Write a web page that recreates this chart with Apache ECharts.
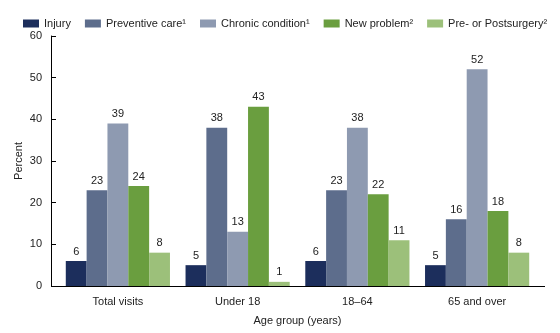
<!DOCTYPE html>
<html><head><meta charset="utf-8">
<script src="https://cdn.jsdelivr.net/npm/echarts@6/dist/echarts.min.js"></script>
<style>html,body{margin:0;padding:0;background:#fff}#c{width:560px;height:333px}</style>
</head><body><div id="c"></div>
<script>
var categories = ['Total visits', 'Under 18', '18\u201364', '65 and over'];
var seriesNames = ['Injury', 'Preventive care\u00b9', 'Chronic condition\u00b9', 'New problem\u00b2', 'Pre- or Postsurgery\u00b2'];
var injury = [6, 5, 6, 5];
var preventive = [23, 38, 23, 16];
var chronic = [39, 13, 38, 52];
var newProblem = [24, 43, 22, 18];
var surgery = [8, 1, 11, 8];
var yTicks = [0, 10, 20, 30, 40, 50, 60];
var colors = ['#1c2e5c', '#5d6d8c', '#8e9ab1', '#6a9e3f', '#9cc07a'];

var values = [injury, preventive, chronic, newProblem, surgery];
var font = 'Liberation Sans, Arial, sans-serif';
var chart = echarts.init(document.getElementById('c'));
chart.setOption({
  animation: false,
  textStyle: {fontFamily: font},
  legend: {
    left: 18, top: 13, itemWidth: 16, itemHeight: 8, itemGap: 14,
    icon: 'rect',
    textStyle: {fontSize: 11, color: '#222', fontFamily: font},
    data: seriesNames
  },
  grid: {left: 58, right: 23, top: 36, bottom: 47},
  xAxis: {
    type: 'category', data: categories,
    axisLine: {show: false},
    axisTick: {show: false},
    axisLabel: {fontSize: 11, color: '#222', margin: 10, fontFamily: font},
    name: 'Age group (years)', nameLocation: 'middle', nameGap: 29,
    nameTextStyle: {fontSize: 11, color: '#222', fontFamily: font}
  },
  yAxis: {
    type: 'value', min: yTicks[0], max: yTicks[yTicks.length - 1], interval: 10,
    offset: 7,
    axisLine: {show: true, lineStyle: {color: '#000', width: 1}},
    axisTick: {show: true, inside: true, length: 5, lineStyle: {color: '#000'}},
    axisLabel: {fontSize: 11, color: '#222', margin: 9, fontFamily: font},
    splitLine: {show: false},
    name: 'Percent', nameLocation: 'middle', nameGap: 27, nameMoveOverlap: false,
    nameTextStyle: {fontSize: 11, color: '#222', fontFamily: font}
  },
  series: seriesNames.map(function (n, i) {
    return {
      name: n, type: 'bar', data: values[i],
      barGap: '0%', barCategoryGap: '13%',
      itemStyle: {color: colors[i]},
      label: {show: true, position: 'top', fontSize: 11, color: '#222', distance: 4, fontFamily: font}
    };
  })
});
var y0 = Math.round(chart.convertToPixel({yAxisIndex: 0}, 0)) + 0.5;
chart.setOption({
  graphic: [{type: 'line', z: 100, shape: {x1: 51, y1: y0, x2: 545, y2: y0}, style: {stroke: '#000', lineWidth: 1}}]
});
</script></body></html>
